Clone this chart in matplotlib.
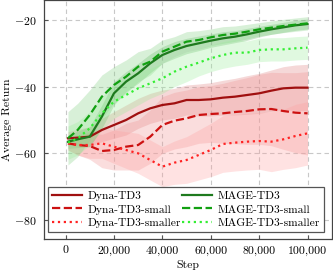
import matplotlib
matplotlib.use("Agg")
import matplotlib.pyplot as plt
import numpy as np
from matplotlib.ticker import FuncFormatter

plt.rcParams['font.family'] = 'serif'
plt.rcParams['font.serif'] = ['cmr10', 'DejaVu Serif']
plt.rcParams['mathtext.fontset'] = 'cm'
plt.rcParams['axes.formatter.use_mathtext'] = True

steps = [1000, 5000, 10000, 15000, 20000, 25000, 30000, 35000, 40000, 45000, 50000,
         55000, 60000, 65000, 70000, 75000, 80000, 85000, 90000, 95000, 100000]

dyna = [-55.5, -55.3, -55.0, -53.0, -51.5, -50.0, -48.0, -46.5, -45.5, -45.0, -44.0,
        -44.0, -43.8, -43.3, -43.0, -42.5, -42.0, -41.2, -40.5, -40.3, -40.3]
dyna_std = [2.0, 2.5, 3.0, 3.5, 4.0, 4.5, 4.5, 4.5, 4.5, 4.5, 4.5,
            4.8, 5.0, 5.2, 5.5, 5.8, 6.0, 6.2, 6.5, 6.8, 7.0]
dyna_small = [-57.0, -57.5, -57.8, -59.3, -59.0, -58.0, -57.5, -55.0, -51.5, -50.2, -49.5,
              -48.5, -48.2, -48.0, -47.6, -47.3, -46.8, -46.7, -47.3, -47.8, -48.0]
dyna_small_std = [2.0, 3.0, 4.0, 5.0, 6.0, 7.0, 7.5, 8.0, 8.5, 8.5, 8.5,
                  8.5, 8.5, 9.0, 9.5, 10.0, 10.5, 11.0, 11.5, 12.0, 12.5]
dyna_smaller = [-57.0, -57.5, -57.5, -57.0, -58.0, -59.0, -60.0, -62.0, -64.0, -62.8, -62.0,
                -60.5, -59.0, -57.2, -56.8, -56.5, -56.3, -56.5, -55.8, -54.8, -54.0]
dyna_smaller_std = [2.0, 3.0, 4.0, 4.5, 5.0, 5.5, 6.0, 6.0, 6.0, 6.5, 7.0,
                    7.5, 8.0, 8.5, 8.5, 8.5, 8.5, 9.0, 9.0, 9.5, 9.5]

mage = [-56.5, -55.8, -55.0, -49.0, -42.0, -38.5, -36.0, -33.0, -30.5, -29.0, -27.8,
        -27.0, -26.2, -25.5, -25.0, -24.3, -23.5, -22.8, -22.2, -21.6, -21.2]
mage_std = [2.0, 2.5, 3.0, 3.5, 3.5, 3.0, 3.0, 2.8, 2.5, 2.5, 2.3,
            2.2, 2.0, 2.0, 1.8, 1.8, 1.6, 1.5, 1.5, 1.5, 1.5]
mage_small = [-55.5, -53.0, -48.5, -43.0, -39.5, -37.0, -34.0, -32.5, -29.5, -28.0, -26.5,
              -26.0, -25.2, -24.5, -24.1, -23.5, -22.8, -22.3, -21.8, -21.4, -21.0]
mage_small_std = [8.0, 8.0, 7.5, 6.5, 5.5, 5.0, 4.5, 4.0, 3.5, 3.0, 3.0,
                  2.8, 2.5, 2.5, 2.3, 2.2, 2.0, 2.0, 2.0, 2.0, 2.0]
mage_smaller = [-56.8, -55.5, -52.5, -48.0, -44.5, -42.5, -40.5, -39.0, -37.5, -35.5, -34.0,
                -32.8, -31.5, -30.5, -29.8, -29.8, -29.0, -28.8, -28.8, -28.5, -28.3]
mage_smaller_std = [5.0, 5.0, 5.0, 5.0, 5.0, 5.0, 5.0, 4.5, 4.5, 4.5, 4.5,
                    4.0, 4.0, 4.0, 4.0, 3.5, 3.5, 3.5, 3.5, 3.5, 3.5]

series = [
    ("Dyna-TD3", dyna, dyna_std, "#a01010", "-", "#e08080"),
    ("Dyna-TD3-small", dyna_small, dyna_small_std, "#cc1111", "--", "#f09090"),
    ("Dyna-TD3-smaller", dyna_smaller, dyna_smaller_std, "#ff2222", ":", "#ffa0a0"),
    ("MAGE-TD3", mage, mage_std, "#1e7a1e", "-", "#60b060"),
    ("MAGE-TD3-small", mage_small, mage_small_std, "#11a011", "--", "#80d080"),
    ("MAGE-TD3-smaller", mage_smaller, mage_smaller_std, "#33ee33", ":", "#99ee99"),
]

fig = plt.figure(figsize=(3.33, 2.74), dpi=100)
ax = fig.add_axes([44 / 333, 1 - 239 / 274, 287.5 / 333, 239 / 274])

x = np.array(steps)
for name, mean, std, col, ls, fcol in series:
    m = np.array(mean)
    s = np.array(std)
    ax.fill_between(x, m - s, m + s, color=fcol, alpha=0.3, linewidth=0)

handles = []
for name, mean, std, col, ls, fcol in series:
    h, = ax.plot(x, mean, color=col, linestyle=ls, linewidth=1.6, label=name)
    handles.append(h)

ax.set_xlim(-8900, 109900)
ax.set_ylim(-85.7, -14)
ax.set_xticks([0, 20000, 40000, 60000, 80000, 100000])
ax.set_yticks([-80, -60, -40, -20])
ax.xaxis.set_major_formatter(FuncFormatter(lambda v, p: f"{v:,.0f}"))
ax.grid(True, color="#c8c8c8", linestyle=(0, (4, 3)), linewidth=0.8)
ax.set_axisbelow(True)
ax.tick_params(direction="in", length=3, labelsize=8.5, color="#555555", pad=5)
for sp in ax.spines.values():
    sp.set_color("#444444")
    sp.set_linewidth(0.9)

ax.set_xlabel("Step", fontsize=8.5, labelpad=3)
ax.set_ylabel("Average Return", fontsize=8.5, labelpad=2)

leg = ax.legend(handles=handles, ncol=2, loc="lower left", mode="expand",
                bbox_to_anchor=(0.014, 0.029, 0.96, 0.2), borderaxespad=0,
                fontsize=8.3, fancybox=False, framealpha=1, edgecolor="#555555",
                handlelength=2.6, handletextpad=0.5, columnspacing=0.5,
                labelspacing=0.3, borderpad=0.35)
leg.get_frame().set_linewidth(0.9)

fig.savefig("out.png", dpi=100)
